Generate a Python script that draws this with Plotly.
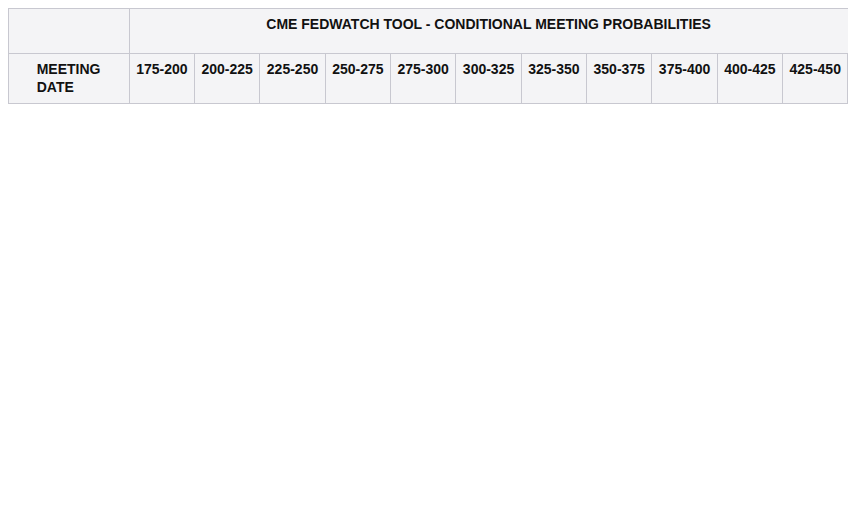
import plotly.graph_objects as go

title = "CME FEDWATCH TOOL - CONDITIONAL MEETING PROBABILITIES"
ranges = ["175-200","200-225","225-250","250-275","275-300","300-325","325-350","350-375","375-400","400-425","425-450"]
dates = ["5/7/2025","6/18/2025","7/30/2025","9/17/2025","10/29/2025","12/10/2025","1/28/2026","3/18/2026","4/29/2026","6/17/2026","7/29/2026","9/16/2026","10/28/2026","12/9/2026"]
probs = [
 [None,None,None,None,None,0.0,0.0,0.0,0.0,36.5,63.5],
 [0.0,0.0,0.0,0.0,0.0,0.0,0.0,0.0,31.0,59.4,9.5],
 [0.0,0.0,0.0,0.0,0.0,0.0,0.0,28.9,57.5,13.0,0.7],
 [0.0,0.0,0.0,0.0,0.0,0.0,21.0,49.7,25.1,4.0,0.2],
 [0.0,0.0,0.0,0.0,0.0,10.3,35.1,37.6,14.7,2.1,0.1],
 [0.0,0.0,0.0,0.0,2.2,15.7,35.6,32.7,12.0,1.7,0.1],
 [0.0,0.0,0.0,1.5,11.2,28.9,33.7,18.9,5.2,0.6,0.0],
 [0.0,0.0,0.5,4.9,17.4,30.6,28.5,14.1,3.6,0.4,0.0],
 [0.0,0.1,1.4,7.5,20.2,30.2,25.5,11.9,2.9,0.3,0.0],
 [0.0,0.4,2.6,10.0,22.1,29.3,22.8,10.1,2.4,0.3,0.0],
 [0.0,0.5,3.1,10.8,22.6,28.8,22.0,9.6,2.3,0.2,0.0],
 [0.1,0.6,3.3,11.1,22.8,28.6,21.7,9.4,2.2,0.2,0.0],
 [0.1,0.5,3.1,10.4,21.7,28.1,22.3,10.5,2.8,0.4,0.0],
 [0.2,1.3,5.3,13.9,23.7,26.3,18.6,8.1,2.1,0.3,0.0],
]

CYAN = "#bdf4fb"; YEL = "#f8f8d8"; WHITE = "#ffffff"; HDR = "#f4f4f6"; LINE = "#c8c8d0"

cols_text = [dates]
cols_fill = [[WHITE]*len(dates)]
for j in range(len(ranges)):
    txt, fill = [], []
    for row in probs:
        v = row[j]
        vals = [x if x is not None else -1 for x in row]
        m = vals.index(max(vals))
        txt.append("" if v is None else f"{v:.1f}%")
        fill.append(CYAN if j == m else (YEL if j > m else WHITE))
    cols_text.append(txt)
    cols_fill.append(fill)

W, H = 856, 522
x0, x1 = 0, 840/W
fw = 122
cw = 723/11
font = dict(family="Liberation Sans, Arial", size=15, color="#222")
hfont = dict(family="Liberation Sans, Arial", size=14, color="#111")

fig = go.Figure()
fig.add_trace(go.Table(
    domain=dict(x=[x0, x1], y=[0, 1]),
    columnwidth=[fw, 723],
    header=dict(values=["", "<b>" + title + "</b>"], height=45, fill_color=HDR,
                line_color=LINE, align="center", font=hfont),
))
fig.add_trace(go.Table(
    domain=dict(x=[x0, x1], y=[0, 1 - 45/H]),
    columnwidth=[fw] + [cw]*11,
    header=dict(values=["<b>MEETING DATE</b>"] + [f"<b>{r}</b>" for r in ranges],
                height=50, fill_color=HDR, line_color=LINE, align="center", font=hfont),
    cells=dict(values=cols_text, fill_color=cols_fill, line_color=LINE,
               align="right", height=29.8, font=font),
))
fig.update_layout(width=W, height=H, margin=dict(l=0, r=0, t=0, b=0),
                  paper_bgcolor="white")
fig.write_html("out.html")
